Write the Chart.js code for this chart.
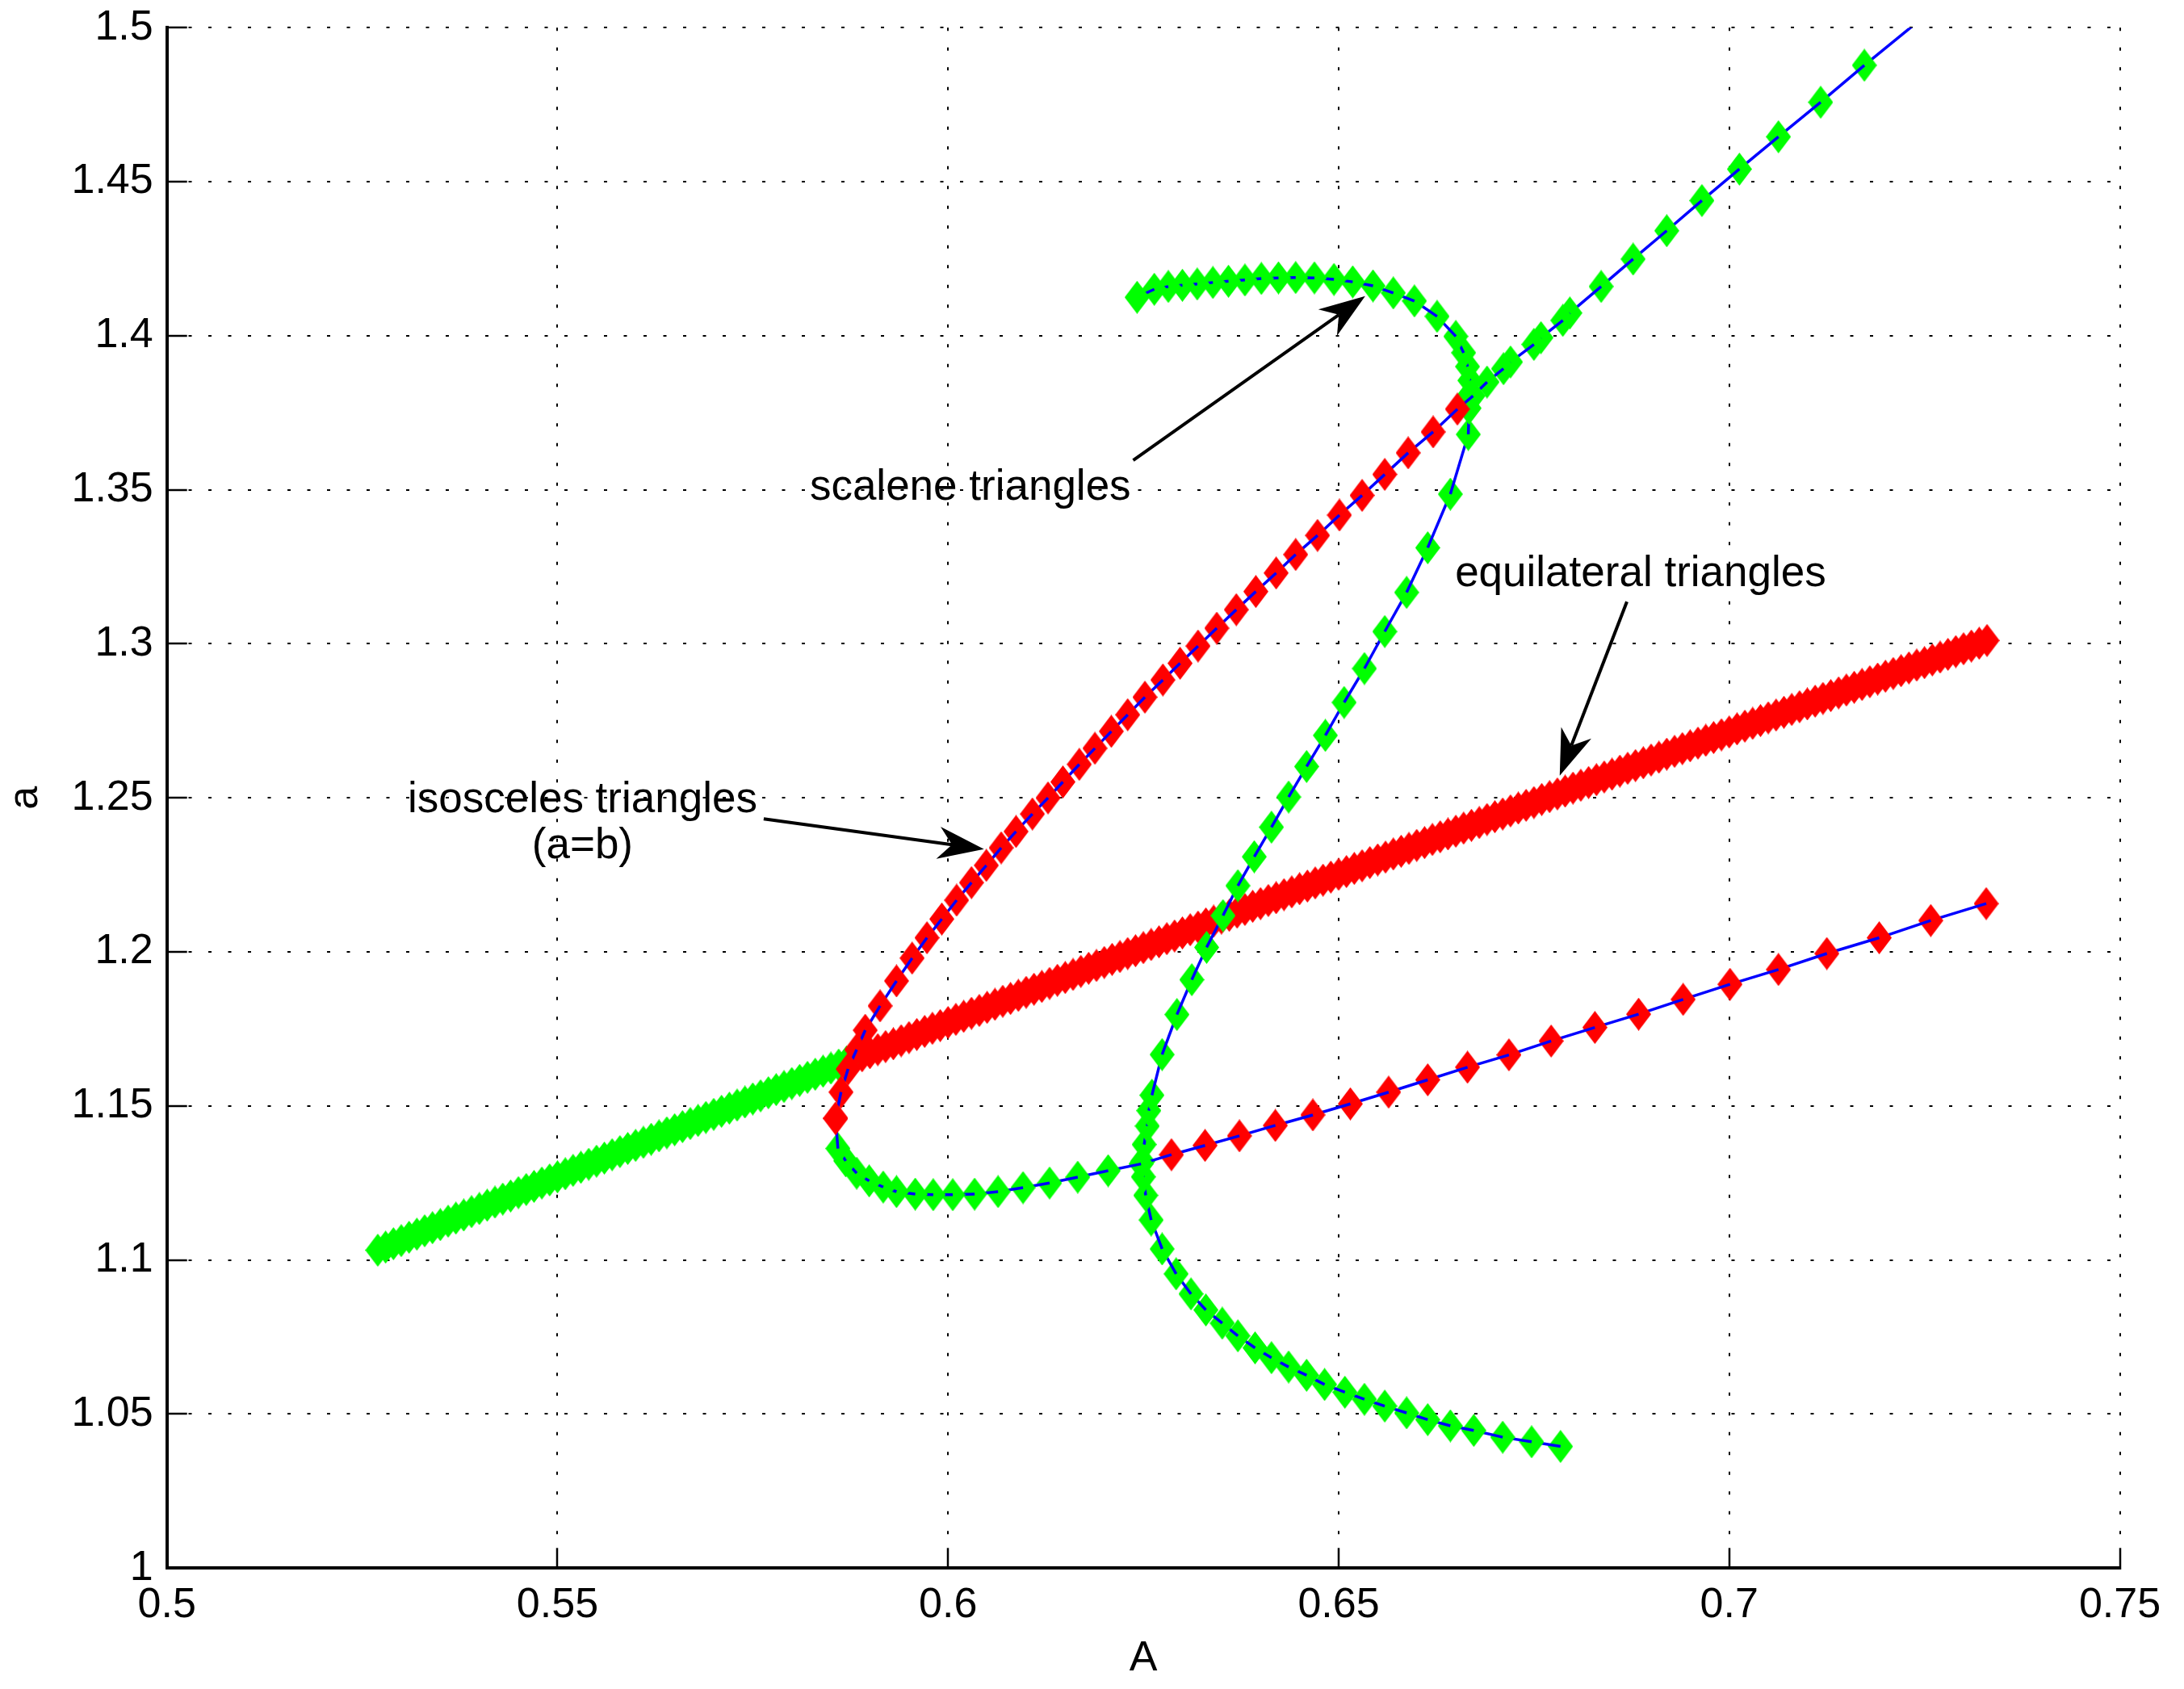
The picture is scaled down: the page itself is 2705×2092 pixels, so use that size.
<!DOCTYPE html>
<html lang="en">
<head>
<meta charset="UTF-8">
<title>Triangle branches</title>
<script src="https://cdn.jsdelivr.net/npm/chart.js"></script>
<style>
  html, body { margin: 0; padding: 0; background: #fff; }
</style>
</head>
<body>
<canvas id="myChart" width="2705" height="2092"></canvas>
<script>
// axis ticks
const xTicks = [0.5, 0.55, 0.6, 0.65, 0.7, 0.75];
const yTicks = [1, 1.05, 1.1, 1.15, 1.2, 1.25, 1.3, 1.35, 1.4, 1.45, 1.5];

// equilateral triangles, stable part (green)
const equiGreenA = [
  0.527, 0.528, 0.529, 0.530, 0.531, 0.532, 0.533, 0.534, 0.535, 0.536,
  0.537, 0.538, 0.539, 0.540, 0.541, 0.542, 0.543, 0.544, 0.545, 0.546,
  0.547, 0.548, 0.549, 0.550, 0.551, 0.552, 0.553, 0.554, 0.555, 0.556,
  0.557, 0.558, 0.559, 0.560, 0.561, 0.562, 0.563, 0.564, 0.565, 0.566,
  0.567, 0.568, 0.569, 0.570, 0.571, 0.572, 0.573, 0.574, 0.575, 0.576,
  0.577, 0.578, 0.579, 0.580, 0.581, 0.582, 0.583, 0.584, 0.585, 0.586,
  0.587];
const equiGreenSide = [
  1.1032, 1.1042, 1.1053, 1.1063, 1.1074, 1.1084, 1.1095, 1.1105, 1.1115, 1.1126,
  1.1136, 1.1146, 1.1157, 1.1167, 1.1178, 1.1188, 1.1198, 1.1208, 1.1219, 1.1229,
  1.1239, 1.1250, 1.1260, 1.1270, 1.1280, 1.1291, 1.1301, 1.1311, 1.1321, 1.1331,
  1.1342, 1.1352, 1.1362, 1.1372, 1.1382, 1.1392, 1.1403, 1.1413, 1.1423, 1.1433,
  1.1443, 1.1453, 1.1463, 1.1473, 1.1483, 1.1493, 1.1503, 1.1513, 1.1523, 1.1533,
  1.1543, 1.1553, 1.1563, 1.1573, 1.1583, 1.1593, 1.1603, 1.1613, 1.1623, 1.1633,
  1.1643];

// equilateral triangles, unstable part (red)
const equiRedA = [
  0.588, 0.589, 0.590, 0.591, 0.592, 0.593, 0.594, 0.595, 0.596, 0.597,
  0.598, 0.599, 0.600, 0.601, 0.602, 0.603, 0.604, 0.605, 0.606, 0.607,
  0.608, 0.609, 0.610, 0.611, 0.612, 0.613, 0.614, 0.615, 0.616, 0.617,
  0.618, 0.619, 0.620, 0.621, 0.622, 0.623, 0.624, 0.625, 0.626, 0.627,
  0.628, 0.629, 0.630, 0.631, 0.632, 0.633, 0.634, 0.635, 0.636, 0.637,
  0.638, 0.639, 0.640, 0.641, 0.642, 0.643, 0.644, 0.645, 0.646, 0.647,
  0.648, 0.649, 0.650, 0.651, 0.652, 0.653, 0.654, 0.655, 0.656, 0.657,
  0.658, 0.659, 0.660, 0.661, 0.662, 0.663, 0.664, 0.665, 0.666, 0.667,
  0.668, 0.669, 0.670, 0.671, 0.672, 0.673, 0.674, 0.675, 0.676, 0.677,
  0.678, 0.679, 0.680, 0.681, 0.682, 0.683, 0.684, 0.685, 0.686, 0.687,
  0.688, 0.689, 0.690, 0.691, 0.692, 0.693, 0.694, 0.695, 0.696, 0.697,
  0.698, 0.699, 0.700, 0.701, 0.702, 0.703, 0.704, 0.705, 0.706, 0.707,
  0.708, 0.709, 0.710, 0.711, 0.712, 0.713, 0.714, 0.715, 0.716, 0.717,
  0.718, 0.719, 0.720, 0.721, 0.722, 0.723, 0.724, 0.725, 0.726, 0.727,
  0.728, 0.729, 0.730, 0.731, 0.732, 0.733];
const equiRedSide = [
  1.1653, 1.1663, 1.1673, 1.1683, 1.1693, 1.1702, 1.1712, 1.1722, 1.1732, 1.1742,
  1.1752, 1.1761, 1.1771, 1.1781, 1.1791, 1.1801, 1.1810, 1.1820, 1.1830, 1.1840,
  1.1849, 1.1859, 1.1869, 1.1879, 1.1888, 1.1898, 1.1908, 1.1917, 1.1927, 1.1937,
  1.1947, 1.1956, 1.1966, 1.1976, 1.1985, 1.1995, 1.2004, 1.2014, 1.2024, 1.2033,
  1.2043, 1.2052, 1.2062, 1.2072, 1.2081, 1.2091, 1.2100, 1.2110, 1.2119, 1.2129,
  1.2138, 1.2148, 1.2157, 1.2167, 1.2176, 1.2186, 1.2195, 1.2205, 1.2214, 1.2224,
  1.2233, 1.2243, 1.2252, 1.2261, 1.2271, 1.2280, 1.2290, 1.2299, 1.2308, 1.2318,
  1.2327, 1.2336, 1.2346, 1.2355, 1.2365, 1.2374, 1.2383, 1.2392, 1.2402, 1.2411,
  1.2420, 1.2430, 1.2439, 1.2448, 1.2458, 1.2467, 1.2476, 1.2485, 1.2495, 1.2504,
  1.2513, 1.2522, 1.2532, 1.2541, 1.2550, 1.2559, 1.2568, 1.2577, 1.2587, 1.2596,
  1.2605, 1.2614, 1.2623, 1.2632, 1.2642, 1.2651, 1.2660, 1.2669, 1.2678, 1.2687,
  1.2696, 1.2705, 1.2714, 1.2724, 1.2733, 1.2742, 1.2751, 1.2760, 1.2769, 1.2778,
  1.2787, 1.2796, 1.2805, 1.2814, 1.2823, 1.2832, 1.2841, 1.2850, 1.2859, 1.2868,
  1.2877, 1.2886, 1.2895, 1.2904, 1.2913, 1.2922, 1.2931, 1.2939, 1.2948, 1.2957,
  1.2966, 1.2975, 1.2984, 1.2993, 1.3002, 1.3011];

// isosceles (a=b), upper branch, from the top right down to the fold
const isoUpperA = [
  0.7290, 0.7173, 0.7117, 0.7063, 0.7013, 0.6965, 0.6920, 0.6877, 0.6836, 0.6796,
  0.6787, 0.6759, 0.6750, 0.6720, 0.6711, 0.6690, 0.6672,
  0.6652, 0.6621, 0.6589, 0.6559, 0.6530, 0.6501, 0.6473, 0.6445, 0.6420, 0.6394,
  0.6369, 0.6344, 0.6320, 0.6297, 0.6275, 0.6252, 0.6230, 0.6209, 0.6188, 0.6168,
  0.6147, 0.6128, 0.6108, 0.6087, 0.6068, 0.6049, 0.6030, 0.6011, 0.5992, 0.5973,
  0.5954, 0.5934, 0.5913, 0.5894, 0.5883, 0.5872, 0.5863, 0.5856];
const isoUpperSide = [
  1.5120, 1.4878, 1.4758, 1.4646, 1.4541, 1.4439, 1.4341, 1.4249, 1.4160, 1.4074,
  1.4050, 1.3994, 1.3972, 1.3915, 1.3893, 1.3850, 1.3805,
  1.3762, 1.3688, 1.3620, 1.3550, 1.3482, 1.3418, 1.3352, 1.3290, 1.3230, 1.3170,
  1.3111, 1.3051, 1.2993, 1.2937, 1.2883, 1.2827, 1.2770, 1.2716, 1.2661, 1.2609,
  1.2552, 1.2500, 1.2448, 1.2391, 1.2338, 1.2281, 1.2225, 1.2168, 1.2107, 1.2046,
  1.1980, 1.1906, 1.1825, 1.1746, 1.1683, 1.1620, 1.1545, 1.1460];
const isoUpperStable = [
  1, 1, 1, 1, 1, 1, 1, 1, 1, 1, 1, 1, 1, 1, 1, 1, 1,
  0, 0, 0, 0, 0, 0, 0, 0, 0, 0, 0, 0, 0, 0, 0, 0, 0, 0, 0, 0, 0, 0, 0,
  0, 0, 0, 0, 0, 0, 0, 0, 0, 0, 0, 0, 0, 0, 0];

// isosceles (a=b), lower branch, from the right end back to the fold
const isoLowerA = [
  0.7329, 0.7258, 0.7192, 0.7125, 0.7063, 0.7001, 0.6941, 0.6884, 0.6828, 0.6772,
  0.6718, 0.6665, 0.6614, 0.6564, 0.6515, 0.6467, 0.6419, 0.6373, 0.6329, 0.6286,
  0.6247, 0.6205, 0.6166, 0.6130, 0.6096, 0.6064, 0.6034, 0.6006, 0.5981, 0.5958,
  0.5934, 0.5917, 0.5899, 0.5883, 0.5869, 0.5859, 0.5856];
const isoLowerSide = [
  1.2157, 1.2102, 1.2046, 1.1995, 1.1943, 1.1895, 1.1846, 1.1798, 1.1755, 1.1711,
  1.1666, 1.1626, 1.1585, 1.1545, 1.1507, 1.1471, 1.1437, 1.1403, 1.1372, 1.1342,
  1.1312, 1.1290, 1.1269, 1.1250, 1.1235, 1.1222, 1.1214, 1.1212, 1.1212, 1.1214,
  1.1222, 1.1237, 1.1257, 1.1282, 1.1322, 1.1362, 1.1460];
const isoLowerStable = [
  0, 0, 0, 0, 0, 0, 0, 0, 0, 0, 0, 0, 0, 0, 0, 0, 0, 0, 0, 0,
  1, 1, 1, 1, 1, 1, 1, 1, 1, 1, 1, 1, 1, 1, 1, 1,
  0];

// scalene triangles, from the upper left start down to the lower right end
const scaleneA = [
  0.6242, 0.6264, 0.6282, 0.6300, 0.6319, 0.6339, 0.6359, 0.6380, 0.6401, 0.6423,
  0.6445, 0.6469, 0.6494, 0.6518, 0.6544, 0.6570, 0.6597, 0.6626, 0.6650, 0.6660,
  0.6665, 0.6668, 0.6668, 0.6667, 0.6666, 0.6643, 0.6614, 0.6587, 0.6559, 0.6533,
  0.6507, 0.6483, 0.6459, 0.6436, 0.6414, 0.6392, 0.6371, 0.6352, 0.6331, 0.6312,
  0.6293, 0.6274, 0.6261, 0.6257, 0.6255, 0.6251, 0.6249, 0.6250, 0.6253, 0.6260,
  0.6274, 0.6292, 0.6311, 0.6330, 0.6351, 0.6371, 0.6393, 0.6414, 0.6436, 0.6459,
  0.6482, 0.6508, 0.6533, 0.6559, 0.6587, 0.6614, 0.6643, 0.6673, 0.6710, 0.6747,
  0.6784];
const scaleneSide = [
  1.4125, 1.4151, 1.4160, 1.4164, 1.4168, 1.4173, 1.4177, 1.4181, 1.4186, 1.4188,
  1.4189, 1.4188, 1.4183, 1.4175, 1.4162, 1.4139, 1.4113, 1.4063, 1.3998, 1.3945,
  1.3900, 1.3855, 1.3810, 1.3765, 1.3680, 1.3486, 1.3312, 1.3167, 1.3040, 1.2920,
  1.2810, 1.2703, 1.2602, 1.2503, 1.2405, 1.2309, 1.2215, 1.2118, 1.2015, 1.1910,
  1.1797, 1.1667, 1.1535, 1.1485, 1.1435, 1.1375, 1.1320, 1.1270, 1.1210, 1.1130,
  1.1036, 1.0955, 1.0890, 1.0838, 1.0795, 1.0754, 1.0715, 1.0683, 1.0653, 1.0626,
  1.0596, 1.0571, 1.0548, 1.0526, 1.0504, 1.0482, 1.0462, 1.0447, 1.0425, 1.0410,
  1.0395];

// text notes and arrows, in data units
const notes = [
  { text: 'scalene triangles', A: 0.6234, a: 1.3468, align: 'right' },
  { text: 'equilateral triangles', A: 0.6649, a: 1.3187, align: 'left' },
  { text: 'isosceles triangles', A: 0.5532, a: 1.2454, align: 'center' },
  { text: '(a=b)', A: 0.5532, a: 1.2305, align: 'center' }
];
const arrows = [
  { from: [0.6237, 1.3596], to: [0.6534, 1.4129] },
  { from: [0.6869, 1.3137], to: [0.6783, 1.2572] },
  { from: [0.5764, 1.2432], to: [0.6046, 1.2334] }
];

const GREEN = '#00ff00', RED = '#ff0000', BLUE = '#0000ff';

function diamond(color) {
  const c = document.createElement('canvas');
  c.width = 31;
  c.height = 41;
  const g = c.getContext('2d');
  g.fillStyle = color;
  g.beginPath();
  g.moveTo(15.5, 0);
  g.lineTo(31, 20.5);
  g.lineTo(15.5, 41);
  g.lineTo(0, 20.5);
  g.closePath();
  g.fill();
  return c;
}
const markStable = diamond(GREEN);
const markUnstable = diamond(RED);

const datasets = [];
let seq = 0;

// markers only
function addCloud(xs, ys, mark) {
  datasets.push({
    data: xs.map((x, i) => ({ x: x, y: ys[i] })),
    showLine: false,
    pointStyle: mark,
    pointRadius: 5,
    order: -(seq++)
  });
}

// line + markers, one small dataset per segment so every new marker
// sits on top of the line running into it (like a point-by-point plot loop)
function addTraced(xs, ys, stable) {
  const mk = i => stable[i] ? markStable : markUnstable;
  datasets.push({
    data: [{ x: xs[0], y: ys[0] }],
    showLine: false,
    pointStyle: mk(0),
    pointRadius: 5,
    order: -(seq++)
  });
  for (let i = 1; i < xs.length; i++) {
    datasets.push({
      data: [{ x: xs[i - 1], y: ys[i - 1] }, { x: xs[i], y: ys[i] }],
      showLine: true,
      borderColor: BLUE,
      borderWidth: 3.5,
      pointStyle: mk(i),
      pointRadius: [0, 5],
      order: -(seq++)
    });
  }
}

addCloud(equiRedA, equiRedSide, markUnstable);
addCloud(equiGreenA, equiGreenSide, markStable);
// scalene curve was traced from its far (lower right) end
addTraced(scaleneA.slice().reverse(), scaleneSide.slice().reverse(), scaleneA.map(() => 1));
addTraced(isoLowerA, isoLowerSide, isoLowerStable);
addTraced(isoUpperA, isoUpperSide, isoUpperStable);

function drawArrow(ctx, x1, y1, x2, y2) {
  const dx = x2 - x1, dy = y2 - y1;
  const len = Math.hypot(dx, dy);
  const ux = dx / len, uy = dy / len, nx = -uy, ny = ux;
  const L = 57, N = 40, W = 20;
  ctx.lineWidth = 4;
  ctx.beginPath();
  ctx.moveTo(x1, y1);
  ctx.lineTo(x2 - ux * N, y2 - uy * N);
  ctx.stroke();
  ctx.beginPath();
  ctx.moveTo(x2, y2);
  ctx.lineTo(x2 - ux * L + nx * W, y2 - uy * L + ny * W);
  ctx.lineTo(x2 - ux * N, y2 - uy * N);
  ctx.lineTo(x2 - ux * L - nx * W, y2 - uy * L - ny * W);
  ctx.closePath();
  ctx.fill();
}

const annotate = {
  id: 'annotate',
  afterDatasetsDraw(chart) {
    const { ctx, scales: { x, y } } = chart;
    ctx.save();
    ctx.fillStyle = '#000';
    ctx.strokeStyle = '#000';
    ctx.font = '53px "Liberation Sans", Arial, sans-serif';
    ctx.textBaseline = 'alphabetic';
    notes.forEach(n => {
      ctx.textAlign = n.align;
      ctx.fillText(n.text, x.getPixelForValue(n.A), y.getPixelForValue(n.a));
    });
    arrows.forEach(a => {
      drawArrow(ctx,
        x.getPixelForValue(a.from[0]), y.getPixelForValue(a.from[1]),
        x.getPixelForValue(a.to[0]), y.getPixelForValue(a.to[1]));
    });
    ctx.restore();
  }
};

Chart.defaults.font.family = '"Liberation Sans", Arial, Helvetica, sans-serif';
Chart.defaults.color = '#000';

new Chart(document.getElementById('myChart'), {
  type: 'scatter',
  data: { datasets: datasets },
  options: {
    responsive: false,
    animation: false,
    devicePixelRatio: 1,
    events: [],
    layout: { padding: { left: 0, right: 79.5, top: 34.3, bottom: 0 } },
    plugins: { legend: { display: false }, tooltip: { enabled: false } },
    scales: {
      x: {
        type: 'linear',
        min: 0.5,
        max: 0.75,
        afterBuildTicks: s => { s.ticks = xTicks.map(v => ({ value: v })); },
        afterFit: s => {
          s.height = 149.7;
          s.paddingLeft = 0;
          s.paddingRight = 0;
        },
        ticks: { font: { size: 52 }, color: '#000', padding: 40, maxRotation: 0, autoSkip: false, callback: v => String(v) },
        grid: { color: '#000', lineWidth: 2, tickLength: -25, tickWidth: 2.5, tickColor: '#000', tickBorderDash: [] },
        border: { display: true, color: '#000', width: 4, dash: [4, 20.5] },
        title: { display: true, text: 'A', color: '#000', font: { size: 52 }, padding: { top: 0, bottom: 6 } }
      },
      y: {
        type: 'linear',
        min: 1,
        max: 1.5,
        afterBuildTicks: s => { s.ticks = yTicks.map(v => ({ value: v })); },
        afterFit: s => {
          s.width = 206.7;
          s.paddingTop = 0;
          s.paddingBottom = 0;
        },
        ticks: { font: { size: 52 }, color: '#000', padding: 42, autoSkip: false, callback: v => String(v) },
        grid: { color: '#000', lineWidth: 2, tickLength: -25, tickWidth: 2.5, tickColor: '#000', tickBorderDash: [] },
        border: { display: true, color: '#000', width: 4, dash: [4, 20.5] },
        title: { display: true, text: 'a', color: '#000', font: { size: 52 }, padding: { top: 0, bottom: 0 } }
      }
    }
  },
  plugins: [annotate]
});
</script>
</body>
</html>
